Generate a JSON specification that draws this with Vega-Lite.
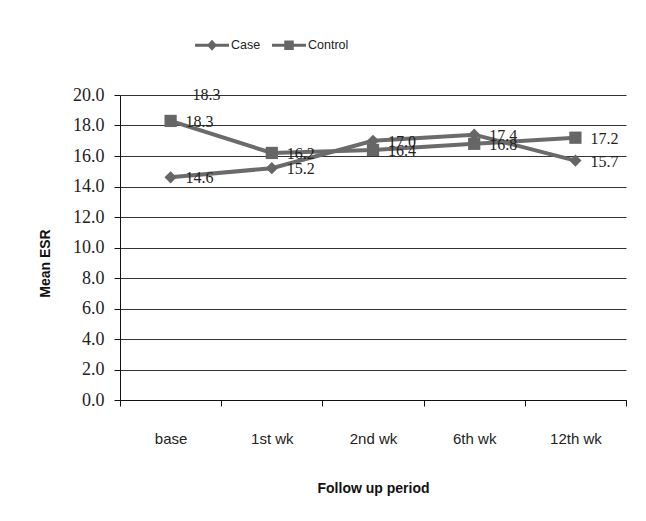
{
  "$schema": "https://vega.github.io/schema/vega-lite/v6.json",
  "width": 506,
  "height": 305,
  "autosize": {"type": "none"},
  "padding": {"left": 120, "top": 95, "right": 20, "bottom": 121},
  "background": "white",
  "config": {"view": {"stroke": null}, "font": "Liberation Sans"},
  "datasets": {
    "esr": [
      {"period": "base", "series": "Case", "value": 14.6, "label": "14.6"},
      {"period": "1st wk", "series": "Case", "value": 15.2, "label": "15.2"},
      {"period": "2nd wk", "series": "Case", "value": 17.0, "label": "17.0"},
      {"period": "6th wk", "series": "Case", "value": 17.4, "label": "17.4"},
      {"period": "12th wk", "series": "Case", "value": 15.7, "label": "15.7"},
      {"period": "base", "series": "Control", "value": 18.3, "label": "18.3"},
      {"period": "1st wk", "series": "Control", "value": 16.2, "label": "16.2"},
      {"period": "2nd wk", "series": "Control", "value": 16.4, "label": "16.4"},
      {"period": "6th wk", "series": "Control", "value": 16.8, "label": "16.8"},
      {"period": "12th wk", "series": "Control", "value": 17.2, "label": "17.2"}
    ],
    "notes": [
      {"period": "base", "value": 20.0, "label": "18.3"}
    ]
  },
  "encoding": {
    "x": {
      "field": "period",
      "type": "nominal",
      "sort": ["base", "1st wk", "2nd wk", "6th wk", "12th wk"],
      "scale": {"type": "band", "paddingInner": 0, "paddingOuter": 0},
      "axis": {
        "title": "Follow up period",
        "tickBand": "extent",
        "labelAngle": 0,
        "labelFont": "Liberation Sans",
        "labelFontSize": 15,
        "labelColor": "#222",
        "labelPadding": 25,
        "tickSize": 6,
        "tickColor": "#111",
        "domainColor": "#111",
        "grid": false,
        "titleFont": "Liberation Sans",
        "titleFontSize": 14,
        "titleFontWeight": "bold",
        "titleColor": "#111",
        "titleY": 88,
        "titleBaseline": "middle"
      }
    },
    "y": {
      "field": "value",
      "type": "quantitative",
      "scale": {"domain": [0, 20], "nice": false, "zero": true},
      "axis": {
        "title": "Mean ESR",
        "values": [0, 2, 4, 6, 8, 10, 12, 14, 16, 18, 20],
        "format": ".1f",
        "labelFont": "Liberation Serif",
        "labelFontSize": 18,
        "labelColor": "#222",
        "labelPadding": 10,
        "tickSize": 6,
        "tickColor": "#111",
        "domainColor": "#111",
        "grid": true,
        "gridColor": "#333",
        "gridWidth": 1.2,
        "titleFont": "Liberation Sans",
        "titleFontSize": 14,
        "titleFontWeight": "bold",
        "titleColor": "#111",
        "titleX": -75,
        "titleY": 168,
        "titleAngle": -90,
        "titleAlign": "center",
        "titleBaseline": "middle"
      }
    }
  },
  "layer": [
    {
      "data": {"name": "esr"},
      "mark": {"type": "line", "strokeWidth": 4, "color": "#6b6b6b"},
      "encoding": {"detail": {"field": "series", "type": "nominal"}}
    },
    {
      "data": {"name": "esr"},
      "mark": {"type": "point", "filled": true, "opacity": 0, "size": 10, "color": "#666666"},
      "encoding": {
        "shape": {
          "field": "series",
          "type": "nominal",
          "scale": {
            "domain": ["Case", "Control"],
            "range": [
              "M-1,-0.09H1V0.09H-1Z M0,-0.33L0.3,0L0,0.33L-0.3,0Z",
              "M-1,-0.09H1V0.09H-1Z M-0.28,-0.28H0.28V0.28H-0.28Z"
            ]
          },
          "legend": {
            "title": null,
            "orient": "none",
            "legendX": 75,
            "legendY": -67,
            "direction": "horizontal",
            "symbolSize": 1156,
            "symbolOpacity": 1,
            "symbolFillColor": "#666666",
            "symbolStrokeWidth": 0,
            "labelFont": "Liberation Sans",
            "labelFontSize": 12.5,
            "labelColor": "#222",
            "labelOffset": 2,
            "columnPadding": 11
          }
        }
      }
    },
    {
      "data": {"name": "esr"},
      "transform": [{"filter": "datum.series === 'Case'"}],
      "mark": {"type": "point", "shape": "diamond", "filled": true, "opacity": 1, "size": 150, "color": "#666666"}
    },
    {
      "data": {"name": "esr"},
      "transform": [{"filter": "datum.series === 'Control'"}],
      "mark": {"type": "point", "shape": "square", "filled": true, "opacity": 1, "size": 150, "color": "#666666"}
    },
    {
      "data": {"name": "esr"},
      "mark": {"type": "text", "align": "left", "baseline": "middle", "dx": 15, "dy": 1, "font": "Liberation Serif", "fontSize": 16, "color": "#222"},
      "encoding": {"text": {"field": "label", "type": "nominal"}}
    },
    {
      "data": {"name": "notes"},
      "mark": {"type": "text", "align": "left", "baseline": "middle", "dx": 22, "dy": 0, "font": "Liberation Serif", "fontSize": 16, "color": "#222"},
      "encoding": {"text": {"field": "label", "type": "nominal"}}
    }
  ]
}
